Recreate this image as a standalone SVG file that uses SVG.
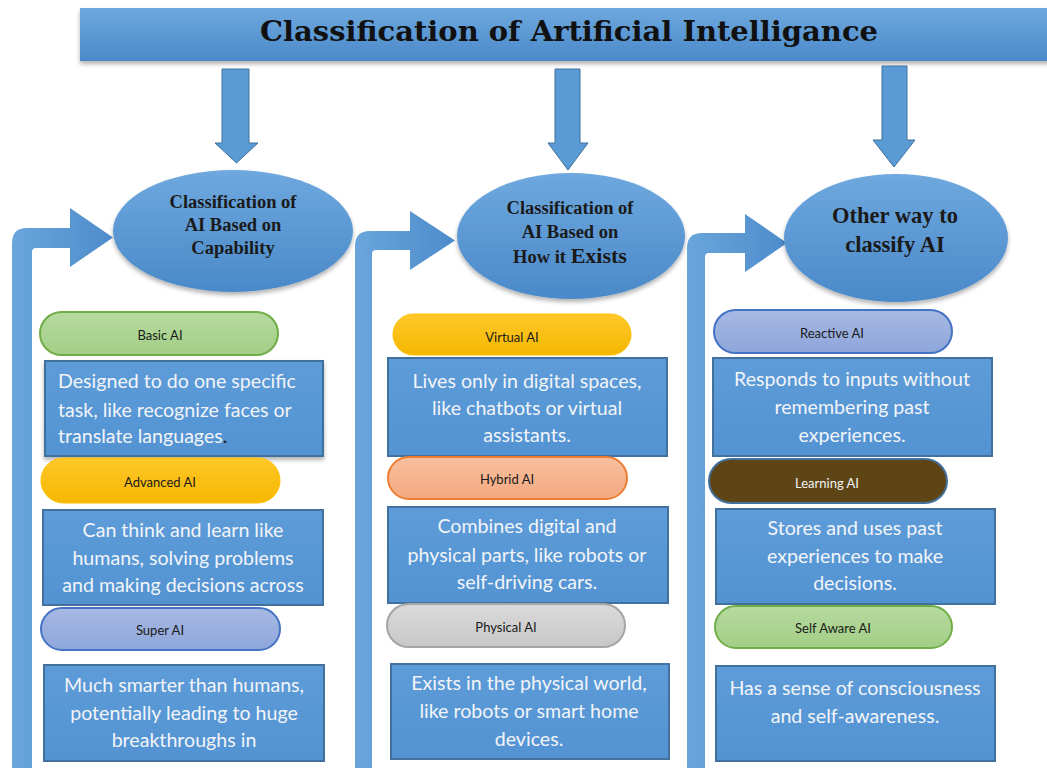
<svg xmlns="http://www.w3.org/2000/svg" width="1047" height="768" viewBox="0 0 1047 768">
<defs>
  <linearGradient id="gBlue" x1="0" y1="0" x2="0" y2="1">
    <stop offset="0" stop-color="#6ea8de"/>
    <stop offset="1" stop-color="#4a89c9"/>
  </linearGradient>
  <linearGradient id="gBand" x1="0" y1="0" x2="1" y2="0">
    <stop offset="0" stop-color="#6aa6dc"/>
    <stop offset="1" stop-color="#4d8bcb"/>
  </linearGradient>
  <linearGradient id="gBox" x1="0" y1="0" x2="0" y2="1">
    <stop offset="0" stop-color="#5d9cd8"/>
    <stop offset="1" stop-color="#5393d2"/>
  </linearGradient>
  <linearGradient id="gGreen" x1="0" y1="0" x2="0" y2="1">
    <stop offset="0" stop-color="#b6da9f"/>
    <stop offset="1" stop-color="#a3ce86"/>
  </linearGradient>
  <linearGradient id="gYellow" x1="0" y1="0" x2="0" y2="1">
    <stop offset="0" stop-color="#ffc72a"/>
    <stop offset="1" stop-color="#f5b800"/>
  </linearGradient>
  <linearGradient id="gLav" x1="0" y1="0" x2="0" y2="1">
    <stop offset="0" stop-color="#a7b9e4"/>
    <stop offset="1" stop-color="#8ea6da"/>
  </linearGradient>
  <linearGradient id="gSalmon" x1="0" y1="0" x2="0" y2="1">
    <stop offset="0" stop-color="#f8c0a0"/>
    <stop offset="1" stop-color="#f3a97f"/>
  </linearGradient>
  <linearGradient id="gGrey" x1="0" y1="0" x2="0" y2="1">
    <stop offset="0" stop-color="#dadada"/>
    <stop offset="1" stop-color="#c8c8c8"/>
  </linearGradient>
  <filter id="sh" x="-10%" y="-10%" width="120%" height="130%">
    <feDropShadow dx="0" dy="3" stdDeviation="2" flood-color="#000" flood-opacity="0.3"/>
  </filter>
</defs>
<style>
  .title{font-family:"DejaVu Serif","Liberation Serif",serif;font-weight:bold;font-size:28px;fill:#111;}
  .ell{fill:url(#gBlue);filter:url(#sh);}
  .etext{font-family:"Liberation Serif","DejaVu Serif",serif;font-weight:bold;fill:#1a1a1a;text-anchor:middle;}
  .arrow{fill:#5b9bd5;stroke:#41719c;stroke-width:1;}
  .band{fill:url(#gBand);}
  .box{fill:url(#gBox);stroke:#41719c;stroke-width:2;}
  .btext{font-family:Lato,"Open Sans",sans-serif;font-size:19.6px;fill:#f2f4f8;text-anchor:middle;}
  .ptext{font-family:Lato,"Open Sans",sans-serif;font-size:13px;fill:#1a1a1a;text-anchor:middle;}
</style>
<rect width="1047" height="768" fill="#ffffff"/>

<g id="title">
  <rect x="80" y="8" width="980" height="53" fill="url(#gBlue)" filter="url(#sh)"/>
  <text class="title" x="569" y="41" text-anchor="middle" textLength="618" lengthAdjust="spacingAndGlyphs">Classification of Artificial Intelligance</text>
</g>

<g id="connectors">
  <path class="arrow" d="M222,69 L249,69 L249,143 L258,143 L236.5,163 L215,143 L222,143 Z"/>
  <path class="arrow" d="M555,69 L580,69 L580,143 L588,143 L568,170 L548,143 L555,143 Z"/>
  <path class="arrow" d="M882,66 L907,66 L907,140 L915,140 L894,167 L873,140 L882,140 Z"/>
  <path class="band" d="M12,768 L12,243 Q12,228 27,228 L70,228 L70,208 L113,237.5 L70,267 L70,248 L36,248 Q32,248 32,252 L32,768 Z"/>
  <path class="band" d="M355,768 L355,246 Q355,231 370,231 L410,231 L410,211 L455,240.5 L410,270 L410,250 L376,250 Q372,250 372,254 L372,768 Z"/>
  <path class="band" d="M687,768 L687,248 Q687,233 702,233 L745,233 L745,214 L787,243 L745,272 L745,253 L709,253 Q705,253 705,257 L705,768 Z"/>
</g>

<g id="cap-ellipse">
  <ellipse class="ell" cx="233" cy="231" rx="120" ry="61"/>
  <text class="etext" font-size="18.5" x="233" y="208">Classification of</text>
  <text class="etext" font-size="18.5" x="233" y="231">AI Based on</text>
  <text class="etext" font-size="18.5" x="233" y="254">Capability</text>
</g>
<g id="exist-ellipse">
  <ellipse class="ell" cx="571" cy="236" rx="114" ry="63"/>
  <text class="etext" font-size="18.5" x="570" y="214">Classification of</text>
  <text class="etext" font-size="18.5" x="570" y="238">AI Based on</text>
  <text class="etext" font-size="18.5" x="570" y="263">How it <tspan font-size="22">Exists</tspan></text>
</g>
<g id="other-ellipse">
  <ellipse class="ell" cx="896" cy="238" rx="112" ry="64"/>
  <text class="etext" font-size="22.5" x="895" y="223">Other way to</text>
  <text class="etext" font-size="22.5" x="895" y="252">classify AI</text>
</g>

<g id="basic-ai">
  <rect x="40" y="312" width="238" height="43" rx="21.5" fill="url(#gGreen)" stroke="#70ad47" stroke-width="2"/>
  <text class="ptext" x="160" y="340">Basic AI</text>
</g>
<g id="basic-desc">
  <rect class="box" x="45" y="361" width="278" height="95" filter="url(#sh)"/>
  <text class="btext" style="text-anchor:start" x="58" y="388">Designed to do one specific</text>
  <text class="btext" style="text-anchor:start" x="58" y="417">task, like recognize faces or</text>
  <text class="btext" style="text-anchor:start" x="58" y="443">translate languages<tspan fill="#1a1a1a">.</tspan></text>
</g>
<g id="advanced-ai">
  <rect x="41" y="458" width="239" height="45" rx="22.5" fill="url(#gYellow)" stroke="#ffc000" stroke-width="1"/>
  <text class="ptext" x="160" y="487">Advanced AI</text>
</g>
<g id="advanced-desc">
  <rect class="box" x="43" y="510" width="280" height="95"/>
  <text class="btext" x="183" y="537">Can think and learn like</text>
  <text class="btext" x="183" y="565">humans, solving problems</text>
  <text class="btext" x="183" y="592">and making decisions across</text>
</g>
<g id="super-ai">
  <rect x="41" y="608" width="239" height="42" rx="21" fill="url(#gLav)" stroke="#4472c4" stroke-width="2"/>
  <text class="ptext" x="160" y="635">Super AI</text>
</g>
<g id="super-desc">
  <rect class="box" x="44" y="665" width="280" height="96"/>
  <text class="btext" x="184" y="692">Much smarter than humans,</text>
  <text class="btext" x="184" y="720">potentially leading to huge</text>
  <text class="btext" x="184" y="747">breakthroughs in</text>
</g>

<g id="virtual-ai">
  <rect x="393" y="314" width="238" height="41" rx="20.5" fill="url(#gYellow)" stroke="#ffc000" stroke-width="1"/>
  <text class="ptext" x="512" y="342">Virtual AI</text>
</g>
<g id="virtual-desc">
  <rect class="box" x="388" y="358" width="279" height="98"/>
  <text class="btext" x="527" y="388">Lives only in digital spaces,</text>
  <text class="btext" x="527" y="415">like chatbots or virtual</text>
  <text class="btext" x="527" y="442">assistants.</text>
</g>
<g id="hybrid-ai">
  <rect x="388" y="457" width="239" height="42" rx="21" fill="url(#gSalmon)" stroke="#ed7d31" stroke-width="2"/>
  <text class="ptext" x="507" y="484">Hybrid AI</text>
</g>
<g id="hybrid-desc">
  <rect class="box" x="388" y="507" width="280" height="96"/>
  <text class="btext" x="527" y="533">Combines digital and</text>
  <text class="btext" x="527" y="562">physical parts, like robots or</text>
  <text class="btext" x="527" y="589">self-driving cars.</text>
</g>
<g id="physical-ai">
  <rect x="387" y="604" width="238" height="43" rx="21.5" fill="url(#gGrey)" stroke="#a5a5a5" stroke-width="2"/>
  <text class="ptext" x="506" y="632">Physical AI</text>
</g>
<g id="physical-desc">
  <rect class="box" x="391" y="664" width="278" height="95"/>
  <text class="btext" x="529" y="690">Exists in the physical world,</text>
  <text class="btext" x="529" y="718">like robots or smart home</text>
  <text class="btext" x="529" y="746">devices.</text>
</g>

<g id="reactive-ai">
  <rect x="714" y="310" width="238" height="43" rx="21.5" fill="url(#gLav)" stroke="#4472c4" stroke-width="2"/>
  <text class="ptext" x="832" y="338">Reactive AI</text>
</g>
<g id="reactive-desc">
  <rect class="box" x="713" y="358" width="279" height="98"/>
  <text class="btext" x="852" y="386">Responds to inputs without</text>
  <text class="btext" x="852" y="414">remembering past</text>
  <text class="btext" x="852" y="442">experiences.</text>
</g>
<g id="learning-ai">
  <rect x="709" y="459" width="238" height="44" rx="22" fill="#5e4516" stroke="#41719c" stroke-width="2"/>
  <text class="ptext" style="fill:#f2f2f2" x="827" y="488">Learning AI</text>
</g>
<g id="learning-desc">
  <rect class="box" x="716" y="509" width="279" height="95"/>
  <text class="btext" x="855" y="535">Stores and uses past</text>
  <text class="btext" x="855" y="563">experiences to make</text>
  <text class="btext" x="855" y="590">decisions.</text>
</g>
<g id="selfaware-ai">
  <rect x="715" y="606" width="237" height="42" rx="21" fill="url(#gGreen)" stroke="#70ad47" stroke-width="2"/>
  <text class="ptext" x="833" y="633">Self Aware AI</text>
</g>
<g id="selfaware-desc">
  <rect class="box" x="716" y="666" width="279" height="95"/>
  <text class="btext" x="855" y="695">Has a sense of consciousness</text>
  <text class="btext" x="855" y="723">and self-awareness.</text>
</g>
</svg>
